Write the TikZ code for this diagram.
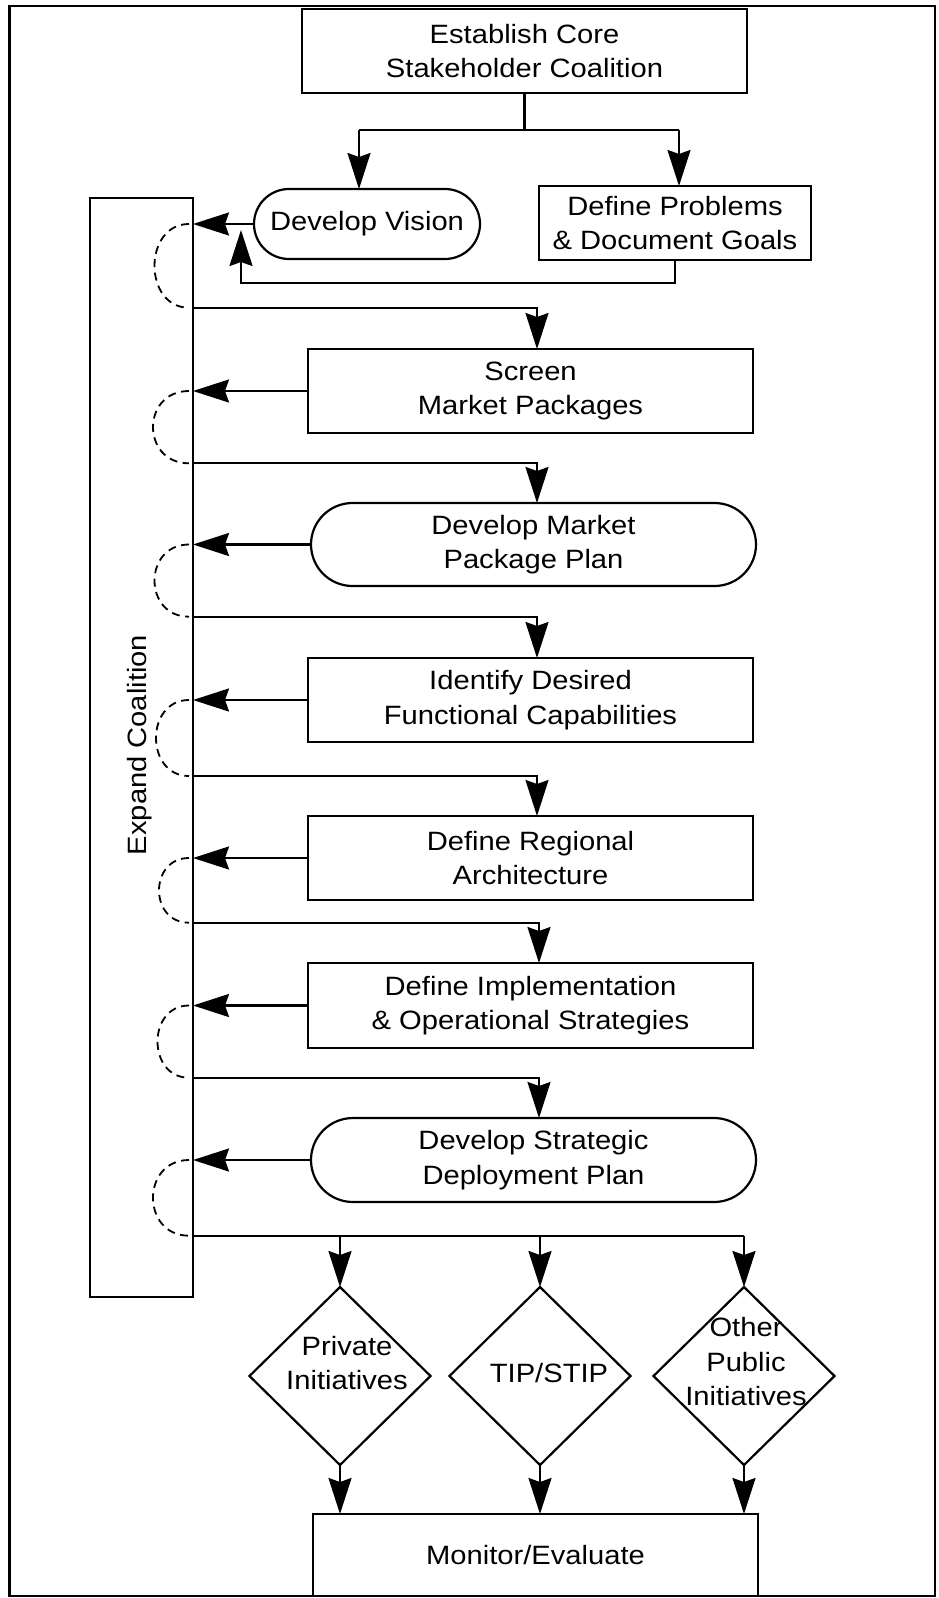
\documentclass[tikz,border=0pt]{standalone}
\usepackage{fontspec}
\setmainfont{Liberation Sans}[FakeStretch=1.1]
\usetikzlibrary{arrows.meta,shapes.geometric}
\begin{document}
\begin{tikzpicture}[x=1pt,y=-1pt,
  every node/.style={font=\fontsize{26.5}{34.5}\selectfont, align=center, inner sep=0pt, outer sep=0pt},
  ln/.style={line width=2.2pt},
  arr/.style={line width=2.2pt, -{Stealth[length=36pt,width=23pt,inset=4pt]}},
  dsh/.style={line width=1.8pt, dash pattern=on 8pt off 5.5pt},
  procbox/.style={draw, line width=2.2pt, rectangle, minimum width=445pt, minimum height=84pt},
  term/.style={draw, line width=2.2pt, rectangle, rounded corners=41.5pt, minimum width=445pt, minimum height=83pt},
  dia/.style={draw, line width=2.2pt, diamond, minimum width=181pt, minimum height=178pt},
  txt/.style={}
]
\useasboundingbox (0,0) rectangle (938,1598);
\draw[line width=2.2pt] (9.5,6) rectangle (935,1596);

% nodes
\node[procbox] (est) at (524.5,51) {Establish Core\\Stakeholder Coalition};
\node[draw, line width=2.2pt, rectangle, rounded corners=35pt, minimum width=226pt, minimum height=70pt] (dv) at (367,224) {Develop Vision};
\node[draw, line width=2.2pt, rectangle, minimum width=272pt, minimum height=74pt] (dp) at (675,223) {Define Problems\\\& Document Goals};
\node[draw, line width=2.2pt, rectangle, minimum width=103pt, minimum height=1099pt] (exp) at (141.5,747.5) {};
\node[txt, rotate=90] (exptext) at (140,745) {Expand Coalition};
\node[procbox] (smp) at (530.5,391) {Screen\\Market Packages};
\node[term] (dmp) at (533.5,544.5) {Develop Market\\Package Plan};
\node[procbox] (idf) at (530.5,700) {Identify Desired\\Functional Capabilities};
\node[procbox] (dra) at (530.5,858) {Define Regional\\Architecture};
\node[procbox, minimum height=85pt] (dis) at (530.5,1005.5) {Define Implementation\\\& Operational Strategies};
\node[term, minimum height=84pt, rounded corners=42pt] (dsd) at (533.5,1160) {Develop Strategic\\Deployment Plan};
\node[dia] (d1) at (340,1376) {};
\node[dia] (d2) at (540,1376) {};
\node[dia] (d3) at (744,1376) {};
\node[txt] (t1) at (347,1363) {Private\\Initiatives};
\node[txt] (t2) at (549,1373) {TIP/STIP};
\node[txt] (t3) at (746,1362) {Other\\Public\\Initiatives};
\node[procbox, minimum height=82pt] (mon) at (535.5,1555) {Monitor/Evaluate};

% top split
\coordinate (bar) at (524.5,130);
\coordinate (bl) at (359,130);
\coordinate (br) at (679,130);
\draw[ln] (est.south) -- (bar);
\draw[ln] (bl) -- (br);
\draw[arr] (bl) -- (bl |- dv.north);
\draw[arr] (br) -- (br |- dp.north);

% feedback from define problems to develop vision
\coordinate (fb) at (241,283);
\coordinate (fbt) at (241,230);
\draw[arr] (dp.south) -- (dp.south |- fb) -- (fb) -- (fbt);

% arrows into expand coalition
\foreach \n in {dv,smp,dmp,idf,dra,dis,dsd}{
  \draw[arr] (\n.west) -- (\n.west -| exp.east);
}

% horizontal feeds
\coordinate (h1) at (537,307.7);
\coordinate (h2) at (537,463.3);
\coordinate (h3) at (537,616.7);
\coordinate (h4) at (537,776);
\coordinate (h5) at (539,922.7);
\coordinate (h6) at (539,1077.7);
\coordinate (h7) at (744,1235.7);
\draw[arr] (exp.east |- h1) -- (h1) -- (h1 |- smp.north);
\draw[arr] (exp.east |- h2) -- (h2) -- (h2 |- dmp.north);
\draw[arr] (exp.east |- h3) -- (h3) -- (h3 |- idf.north);
\draw[arr] (exp.east |- h4) -- (h4) -- (h4 |- dra.north);
\draw[arr] (exp.east |- h5) -- (h5) -- (h5 |- dis.north);
\draw[arr] (exp.east |- h6) -- (h6) -- (h6 |- dsd.north);
\draw[ln] (exp.east |- h7) -- (h7);
\draw[arr] (d1.north |- h7) -- (d1.north);
\draw[arr] (d2.north |- h7) -- (d2.north);
\draw[arr] (h7) -- (d3.north);

% diamonds to monitor
\draw[arr] (d1.south) -- (d1.south |- mon.north);
\draw[arr] (d2.south) -- (d2.south |- mon.north);
\draw[arr] (d3.south) -- (d3.south |- mon.north);

% dashed loops
\coordinate (ax) at (189,0);
\draw[dsh] (ax |- dv.west)  .. controls +(-46,0) and +(-46,0) .. (ax |- h1);
\draw[dsh] (ax |- smp.west) .. controls +(-48,0) and +(-48,0) .. (ax |- h2);
\draw[dsh] (ax |- dmp.west) .. controls +(-46,0) and +(-46,0) .. (ax |- h3);
\draw[dsh] (ax |- idf.west) .. controls +(-44,0) and +(-44,0) .. (ax |- h4);
\draw[dsh] (ax |- dra.west) .. controls +(-40,0) and +(-40,0) .. (ax |- h5);
\draw[dsh] (ax |- dis.west) .. controls +(-42,0) and +(-42,0) .. (ax |- h6);
\draw[dsh] (ax |- dsd.west) .. controls +(-48,0) and +(-48,0) .. (ax |- h7);
\end{tikzpicture}
\end{document}
